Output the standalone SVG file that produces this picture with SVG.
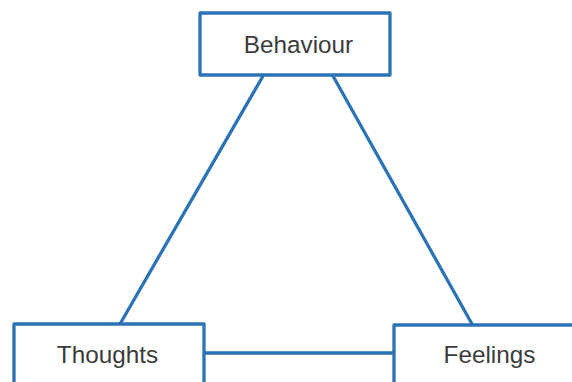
<svg xmlns="http://www.w3.org/2000/svg" width="572" height="382" viewBox="0 0 572 382">
<style>
.box{fill:#ffffff;stroke:#2b73b4;stroke-width:3.3;stroke-linejoin:round}
.ln{fill:none;stroke:#2b73b4;stroke-width:3.3;stroke-linecap:round}
.lbl{font-family:"Liberation Sans",Arial,sans-serif;font-size:24.3px;fill:#3c3c3c;text-anchor:middle}
</style>
<rect width="572" height="382" fill="#ffffff"/>
<g id="connectors">
<path class="ln" d="M263 76 L120 324"/>
<path class="ln" d="M333 76 L472 324"/>
<path class="ln" d="M204 353 L394 353"/>
</g>
<g id="behaviour">
<rect class="box" x="200" y="13" width="190" height="62"/>
<text class="lbl" x="298.5" y="53">Behaviour</text>
</g>
<g id="thoughts">
<rect class="box" x="14" y="324" width="190" height="62"/>
<text class="lbl" x="107.5" y="363">Thoughts</text>
</g>
<g id="feelings">
<rect class="box" x="394" y="325" width="190" height="62"/>
<text class="lbl" x="489.5" y="363">Feelings</text>
</g>
</svg>
